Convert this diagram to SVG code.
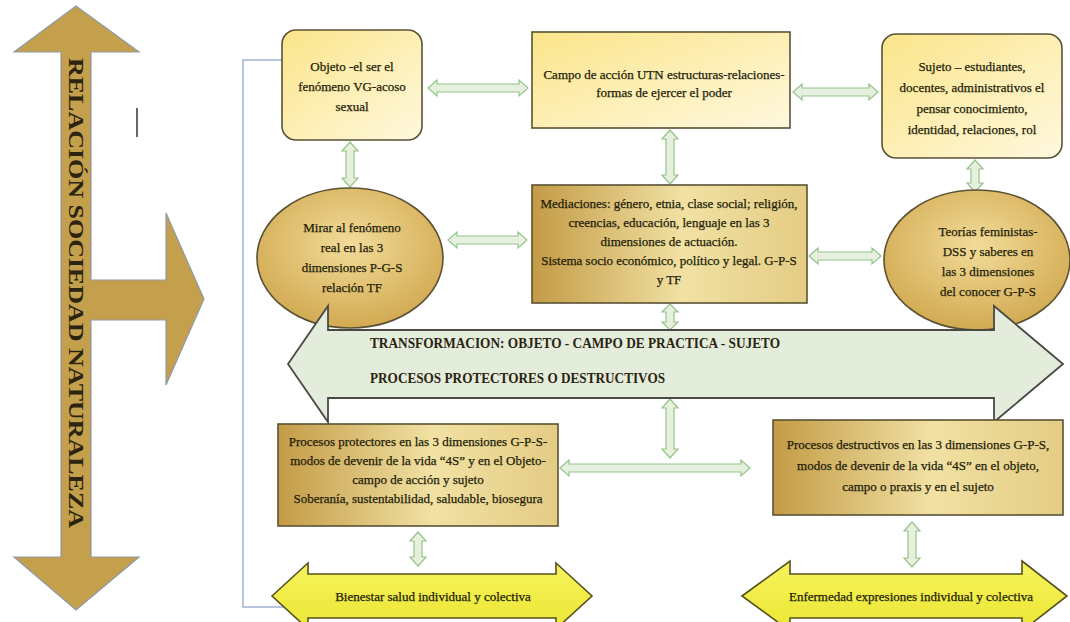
<svg xmlns="http://www.w3.org/2000/svg" width="1070" height="622" viewBox="0 0 1070 622">
<style>
.t{font-family:"Liberation Serif","Times New Roman",serif;font-size:13px;fill:#221d08;stroke:#221d08;stroke-width:0.25;text-anchor:middle}
.tb{font-family:"Liberation Serif","Times New Roman",serif;font-weight:bold;fill:#2a2410}
.ga{fill:#e5f1de;stroke:#97c38b;stroke-width:1.2}
.bx{stroke:#5a5234;stroke-width:1.6}
.ell{fill:url(#gEll);stroke:#5a5234;stroke-width:1.6}
.yel{fill:url(#gYel);stroke:#55521e;stroke-width:1.6}
.conn{fill:none;stroke:#9fb3cf;stroke-width:1.5}
</style>
<defs>
<linearGradient id="gTop" x1="0" y1="0" x2="1" y2="1"><stop offset="0" stop-color="#fbe58a"/><stop offset="1" stop-color="#fff8de"/></linearGradient>
<linearGradient id="gGold" x1="0" y1="0" x2="1" y2="0"><stop offset="0" stop-color="#c39b46"/><stop offset="0.55" stop-color="#f1e1a3"/><stop offset="1" stop-color="#e4cc84"/></linearGradient>
<radialGradient id="gEll" cx="0.5" cy="0.4" r="0.6"><stop offset="0" stop-color="#f2dc9a"/><stop offset="1" stop-color="#d2aa52"/></radialGradient>
<linearGradient id="gYel" x1="0" y1="0" x2="0" y2="1"><stop offset="0" stop-color="#f6f35e"/><stop offset="1" stop-color="#ece632"/></linearGradient>
</defs>

<g id="relacion-arrow">
<path d="M76,6 L139,52 L91,52 L91,280 L166,280 L166,213 L204,299 L166,385 L166,320 L91,320 L91,557 L139,557 L76,610 L14,557 L61,557 L61,52 L14,52 Z" fill="#c4a04c" stroke="#8f9aa8" stroke-width="1.2"/>
<text class="tb" font-size="20" transform="translate(69,58) rotate(90)" textLength="470" lengthAdjust="spacingAndGlyphs" fill="#3a2c10">RELACIÓN SOCIEDAD NATURALEZA</text>
<line x1="137" y1="108" x2="137" y2="137" stroke="#333" stroke-width="1.5"/>
</g>

<g id="connectors">
<polyline class="conn" points="282,60 243,60 243,607 285,607"/>
<polygon class="ga" points="428,88 437,80 437,84 519,84 519,80 528,88 519,96 519,92 437,92 437,96"/>
<polygon class="ga" points="793,92 802,84 802,88 869,88 869,84 878,92 869,100 869,96 802,96 802,100"/>
<polygon class="ga" points="350,142 358,151 354,151 354,178 358,178 350,187 342,178 346,178 346,151 342,151"/>
<polygon class="ga" points="670,130 678,139 674,139 674,175 678,175 670,184 662,175 666,175 666,139 662,139"/>
<polygon class="ga" points="975,160 983,169 979,169 979,183 983,183 975,192 967,183 971,183 971,169 967,169"/>
<polygon class="ga" points="448,240 457,232 457,236 518,236 518,232 527,240 518,248 518,244 457,244 457,248"/>
<polygon class="ga" points="809,256 818,248 818,252 872,252 872,248 881,256 872,264 872,260 818,260 818,264"/>
<polygon class="ga" points="670,304 678,312 674,312 674,322 678,322 670,330 662,322 666,322 666,312 662,312"/>
<polygon class="ga" points="670,399 678,408 674,408 674,449 678,449 670,458 662,449 666,449 666,408 662,408"/>
<polygon class="ga" points="560,468 569,460 569,464 741,464 741,460 750,468 741,476 741,472 569,472 569,476"/>
<polygon class="ga" points="418,532 426,541 422,541 422,557 426,557 418,566 410,557 414,557 414,541 410,541"/>
<polygon class="ga" points="912,522 920,531 916,531 916,558 920,558 912,567 904,558 908,558 908,531 904,531"/>
</g>

<g id="objeto">
<rect x="282" y="30" width="140" height="110" rx="14" class="bx" fill="url(#gTop)"/>
<text class="t" x="352" y="71">Objeto -el ser el</text>
<text class="t" x="352" y="91">fenómeno VG-acoso</text>
<text class="t" x="352" y="111">sexual</text>
</g>

<g id="campo">
<rect x="532" y="32" width="258" height="96" class="bx" fill="url(#gTop)"/>
<text class="t" x="664" y="79">Campo de acción UTN estructuras-relaciones-</text>
<text class="t" x="664" y="97">formas de ejercer el poder</text>
</g>

<g id="sujeto">
<rect x="882" y="34" width="180" height="124" rx="14" class="bx" fill="url(#gTop)"/>
<text class="t" x="972" y="71">Sujeto – estudiantes,</text>
<text class="t" x="972" y="92">docentes, administrativos el</text>
<text class="t" x="972" y="113">pensar conocimiento,</text>
<text class="t" x="972" y="134">identidad, relaciones, rol</text>
</g>

<g id="mirar">
<ellipse cx="350" cy="258" rx="93" ry="70" class="ell"/>
<text class="t" x="352" y="232">Mirar al fenómeno</text>
<text class="t" x="352" y="252">real en las 3</text>
<text class="t" x="352" y="272">dimensiones P-G-S</text>
<text class="t" x="352" y="292">relación TF</text>
</g>

<g id="mediaciones">
<rect x="532" y="185" width="275" height="118" class="bx" fill="url(#gGold)"/>
<text class="t" x="669" y="208" font-size="12.5">Mediaciones: género, etnia, clase social; religión,</text>
<text class="t" x="669" y="227" font-size="12.5">creencias, educación, lenguaje en las 3</text>
<text class="t" x="669" y="246" font-size="12.5">dimensiones de actuación.</text>
<text class="t" x="669" y="265" font-size="12.5">Sistema socio económico, político y legal. G-P-S</text>
<text class="t" x="669" y="284" font-size="12.5">y TF</text>
</g>

<g id="teorias">
<ellipse cx="977" cy="260" rx="93" ry="70" class="ell"/>
<text class="t" x="988" y="236">Teorías feministas-</text>
<text class="t" x="988" y="256">DSS y saberes en</text>
<text class="t" x="988" y="276">las 3 dimensiones</text>
<text class="t" x="988" y="296">del conocer G-P-S</text>
</g>

<g id="transformacion">
<path d="M288,364 L328,306 L328,330 L994,330 L994,306 L1063,364 L994,422 L994,398 L328,398 L328,422 Z" fill="#e4ecdc" stroke="#4a4a44" stroke-width="1.8"/>
<text class="tb" x="370" y="348" font-size="14" textLength="410" lengthAdjust="spacingAndGlyphs">TRANSFORMACION: OBJETO - CAMPO DE PRACTICA - SUJETO</text>
<text class="tb" x="370" y="383" font-size="14" textLength="295" lengthAdjust="spacingAndGlyphs">PROCESOS PROTECTORES O DESTRUCTIVOS</text>
</g>

<g id="protectores">
<rect x="278" y="424" width="280" height="102" class="bx" fill="url(#gGold)"/>
<text class="t" x="418" y="446">Procesos protectores en las 3 dimensiones G-P-S-</text>
<text class="t" x="418" y="465">modos de devenir de la vida “4S” y en el Objeto-</text>
<text class="t" x="418" y="484">campo de acción y sujeto</text>
<text class="t" x="418" y="503">Soberanía, sustentabilidad, saludable, biosegura</text>
</g>

<g id="destructivos">
<rect x="773" y="420" width="290" height="95" class="bx" fill="url(#gGold)"/>
<text class="t" x="918" y="449" font-size="13.5">Procesos destructivos en las 3 dimensiones G-P-S,</text>
<text class="t" x="918" y="470" font-size="13.5">modos de devenir de la vida “4S” en el objeto,</text>
<text class="t" x="918" y="491" font-size="13.5">campo o praxis y en el sujeto</text>
</g>

<g id="bienestar">
<path d="M272,596 L308,563 L308,574 L556,574 L556,563 L592,596 L556,629 L556,618 L308,618 L308,629 Z" class="yel"/>
<text class="t" x="433" y="601" font-size="12.5">Bienestar salud individual y colectiva</text>
</g>

<g id="enfermedad">
<path d="M742,596 L790,561 L790,574 L1022,574 L1022,561 L1067,596 L1022,631 L1022,618 L790,618 L790,631 Z" class="yel"/>
<text class="t" x="911" y="601">Enfermedad expresiones individual y colectiva</text>
</g>
</svg>
